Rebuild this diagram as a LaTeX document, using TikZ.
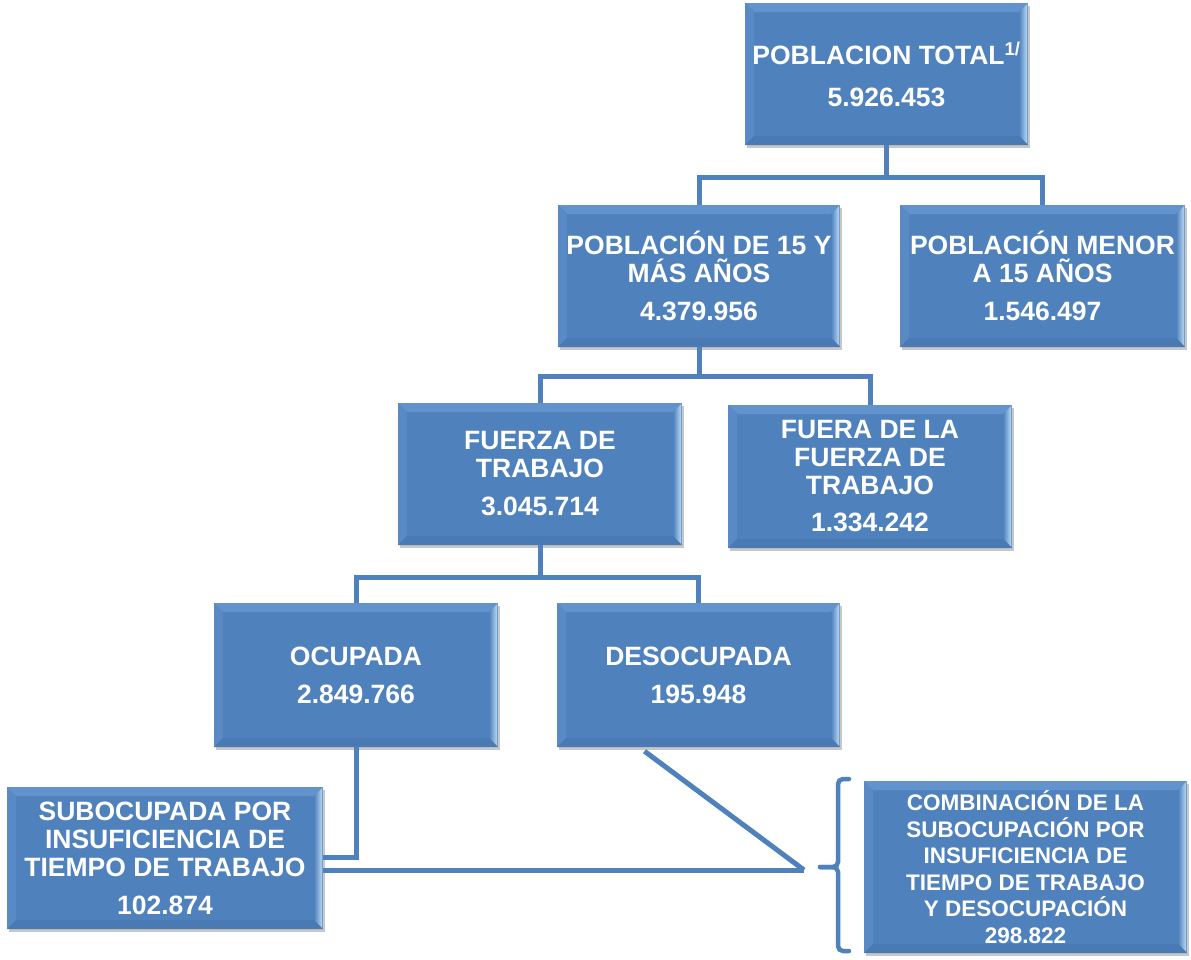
\documentclass[tikz,border=0pt]{standalone}
\usepackage{fontspec}
\setmainfont{Liberation Sans}
\usetikzlibrary{shadows}
\definecolor{boxblue}{HTML}{4F81BD}
\definecolor{bevlight}{HTML}{6393CD}
\definecolor{bevleft}{HTML}{5A8AC5}
\definecolor{bevdark}{HTML}{4A7AB4}
\definecolor{bevright}{HTML}{C3E2F8}
\definecolor{linkblue}{HTML}{4F81BD}
\newcommand\mybevel{%
  \fill[bevlight] (path picture bounding box.north west) -- (path picture bounding box.north east)
    -- ([shift={(-9pt,-9pt)}]path picture bounding box.north east) -- ([shift={(9pt,-9pt)}]path picture bounding box.north west) -- cycle;
  \fill[bevleft] (path picture bounding box.north west) -- ([shift={(9pt,-9pt)}]path picture bounding box.north west)
    -- ([shift={(9pt,9pt)}]path picture bounding box.south west) -- (path picture bounding box.south west) -- cycle;
  \shade[left color=boxblue, right color=bevright] (path picture bounding box.north east) -- ([shift={(-9pt,-9pt)}]path picture bounding box.north east)
    -- ([shift={(-9pt,9pt)}]path picture bounding box.south east) -- (path picture bounding box.south east) -- cycle;
  \fill[boxblue!70!bevright] ([xshift=-1.5pt]path picture bounding box.north east) rectangle (path picture bounding box.south east);
  \fill[bevdark] (path picture bounding box.south west) -- ([shift={(9pt,9pt)}]path picture bounding box.south west)
    -- ([shift={(-9pt,9pt)}]path picture bounding box.south east) -- (path picture bounding box.south east) -- cycle;
}
\tikzset{
  box/.style={fill=boxblue, text=white, inner sep=0pt, align=center,
    font=\bfseries\fontsize{26.5}{28}\selectfont,
    drop shadow={shadow xshift=1.5pt, shadow yshift=-2.5pt, opacity=0.22, fill=black},
    path picture={\mybevel}},
  smallbox/.style={box, font=\bfseries\fontsize{22.5}{26.5}\selectfont},
  conn/.style={draw=linkblue, line width=5pt},
  brace/.style={draw=linkblue, line width=4.5pt, line cap=round, rounded corners=5pt}
}
\begin{document}
\begin{tikzpicture}[x=1pt,y=1pt]
\useasboundingbox (0,0) rectangle (1191,-959);
\fill[white] (0,0) rectangle (1191,-959);

\node[box, minimum width=283pt, minimum height=142pt] (b1) at (886.5,-74)
  {POBLACION TOTAL\textsuperscript{1/}\\[14pt]5.926.453};
\node[box, minimum width=282pt, minimum height=142pt] (b2) at (699,-276)
  {POBLACIÓN DE 15 Y\\MÁS AÑOS\\[10pt]4.379.956};
\node[box, minimum width=285pt, minimum height=142pt] (b3) at (1042.5,-276)
  {POBLACIÓN MENOR\\A 15 AÑOS\\[10pt]1.546.497};
\node[box, minimum width=284pt, minimum height=142pt] (b4) at (540,-474)
  {FUERZA DE\\TRABAJO\\[10pt]3.045.714};
\node[box, minimum width=284pt, minimum height=143pt] (b5) at (870,-476.5)
  {FUERA DE LA\\FUERZA DE\\TRABAJO\\[9pt]1.334.242};
\node[box, minimum width=284pt, minimum height=144pt] (b6) at (356,-675)
  {OCUPADA\\[10pt]2.849.766};
\node[box, minimum width=283pt, minimum height=144pt] (b7) at (698.5,-675)
  {DESOCUPADA\\[10pt]195.948};
\node[box, minimum width=316pt, minimum height=142pt] (b8) at (165,-858)
  {SUBOCUPADA POR\\INSUFICIENCIA DE\\TIEMPO DE TRABAJO\\[10pt]102.874};
\node[smallbox, minimum width=323pt, minimum height=172pt] (b9) at (1025.5,-867)
  {COMBINACIÓN DE LA\\SUBOCUPACIÓN POR\\INSUFICIENCIA DE\\TIEMPO DE TRABAJO\\Y DESOCUPACIÓN\\298.822};

\coordinate (j1) at (886.5,-177);
\coordinate (j2) at (699,-376);
\coordinate (j3) at (540,-577);
\coordinate (tip) at (804,-870);

\draw[conn] (b1.south) -- (j1);
\draw[conn] (b2.north) |- (b3.north |- j1) -- (b3.north);
\draw[conn] (b2.south) -- (j2);
\draw[conn] (b4.north) |- (b5.north |- j2) -- (b5.north);
\draw[conn] (b4.south) -- (j3);
\draw[conn] (b6.north) |- (b7.north |- j3) -- (b7.north);

\draw[conn] (b6.south) |- ([yshift=1pt]b8.east);
\draw[conn] ([yshift=-12pt]b8.east) -- (tip);
\draw[conn] ([shift={(-54pt,-4pt)}]b7.south) -- (tip);

\draw[brace] (849,-779) -- (838,-779) -- (838,-867) -- (820,-867);
\draw[brace] (820,-867) -- (838,-867) -- (838,-951) -- (849,-951);
\end{tikzpicture}
\end{document}
